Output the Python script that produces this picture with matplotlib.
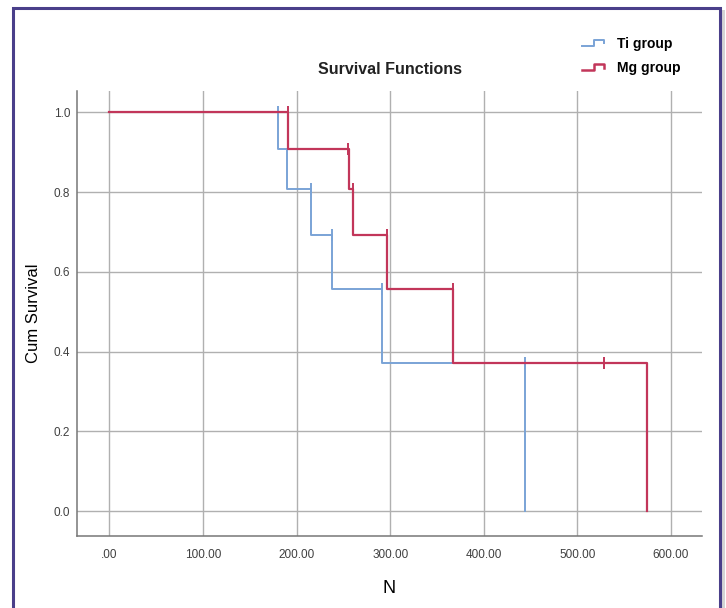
import matplotlib
matplotlib.use("Agg")
import matplotlib.pyplot as plt
from matplotlib.lines import Line2D
from matplotlib.legend_handler import HandlerBase
from matplotlib.patches import Rectangle

plt.rcParams['font.family'] = ['Liberation Sans', 'DejaVu Sans']

# ---- data ----
groups = ["Ti group", "Mg group"]
ti_times = [0, 180, 190, 215, 238, 291, 444]
ti_surv = [1.0, 0.909, 0.808, 0.693, 0.557, 0.371, 0.0]
ti_cens_t = [180, 215, 238, 291, 444]
ti_cens_s = [1.0, 0.808, 0.693, 0.557, 0.371]

mg_times = [0, 191, 256, 260, 297, 367, 574]
mg_surv = [1.0, 0.909, 0.808, 0.693, 0.557, 0.371, 0.0]
mg_cens_t = [191, 255, 260, 297, 367, 528]
mg_cens_s = [1.0, 0.909, 0.808, 0.693, 0.557, 0.371]

x_ticks = [0, 100, 200, 300, 400, 500, 600]
x_labels = [".00", "100.00", "200.00", "300.00", "400.00", "500.00", "600.00"]
y_ticks = [0.0, 0.2, 0.4, 0.6, 0.8, 1.0]
y_labels = ["0.0", "0.2", "0.4", "0.6", "0.8", "1.0"]

BLUE = "#7aa3d6"
RED = "#c2365a"


def km_steps(times, surv):
    xs, ys = [times[0]], [surv[0]]
    for i in range(1, len(times)):
        xs += [times[i], times[i]]
        ys += [surv[i - 1], surv[i]]
    return xs, ys


fig = plt.figure(figsize=(7.26, 6.08), dpi=100)
ax = fig.add_axes([77 / 726, 1 - 536 / 608, (702 - 77) / 726, (536 - 91) / 608])

ax.set_xlim(-34.7, 633.1)
ax.set_ylim(-0.0627, 1.0534)

ax.set_xticks(x_ticks)
ax.set_xticklabels(x_labels)
ax.set_yticks(y_ticks)
ax.set_yticklabels(y_labels)
ax.grid(True, color="#b0b0b0", lw=1.0)
ax.set_axisbelow(True)
ax.tick_params(length=0, labelsize=8.5, labelcolor="#404040")
ax.tick_params(axis="x", pad=9)
ax.tick_params(axis="y", pad=5)
for s in ["top", "right"]:
    ax.spines[s].set_visible(False)
for s in ["left", "bottom"]:
    ax.spines[s].set_color("#777777")
    ax.spines[s].set_linewidth(1.1)

xs, ys = km_steps(ti_times, ti_surv)
ax.plot(xs, ys, color=BLUE, lw=1.4, label=groups[0])
ax.plot(ti_cens_t, ti_cens_s, ls="none", marker="|", ms=8, mew=1.4, color=BLUE)
xs, ys = km_steps(mg_times, mg_surv)
ax.plot(xs, ys, color=RED, lw=1.6, label=groups[1])
ax.plot(mg_cens_t, mg_cens_s, ls="none", marker="|", ms=8, mew=1.4, color=RED)

ax.set_xlabel("N", fontsize=13, labelpad=14)
ax.set_ylabel("Cum Survival", fontsize=12, labelpad=9)
fig.text(389.5 / 726, 1 - 70 / 608, "Survival Functions", fontsize=11.5,
         fontweight="bold", ha="center", va="center", color="#222222")


class StepHandler(HandlerBase):
    def create_artists(self, legend, orig_handle, xdescent, ydescent,
                       width, height, fontsize, trans):
        w, h = width, height
        x = [0, 0.55 * w, 0.55 * w, w, w]
        y = [0.2 * h, 0.2 * h, 0.85 * h, 0.85 * h, 0.5 * h]
        x = [v - xdescent for v in x]
        y = [v - ydescent for v in y]
        ln = Line2D(x, y, color=orig_handle.get_color(),
                    lw=orig_handle.get_linewidth())
        ln.set_transform(trans)
        return [ln]


handles = [Line2D([], [], color=BLUE, lw=1.4), Line2D([], [], color=RED, lw=1.8)]
leg = fig.legend(handles, groups, loc="upper left",
                 bbox_to_anchor=(582 / 726, 1 - 37 / 608),
                 frameon=False, borderpad=0, borderaxespad=0,
                 handlelength=1.6, handletextpad=0.9, labelspacing=0.75,
                 prop={"size": 10, "weight": "bold"},
                 handler_map={Line2D: StepHandler()})

# outer frame
fig.patches.append(Rectangle((722 / 726, -0.01), 3 / 726, 1 - 10 / 608 + 0.01,
                             transform=fig.transFigure, facecolor="#d4d4d4",
                             edgecolor="none", zorder=0))
fig.patches.append(Rectangle((13 / 726, -0.05), (720 - 13) / 726, 1 - 8 / 608 + 0.05,
                             transform=fig.transFigure, facecolor="none",
                             edgecolor="#4a3f8a", lw=2.2))

fig.savefig("out.png", dpi=100)
